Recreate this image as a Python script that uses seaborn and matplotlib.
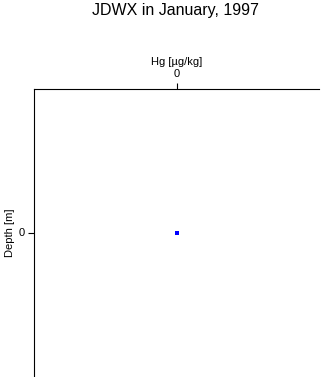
import matplotlib
matplotlib.use("Agg")
import matplotlib.pyplot as plt
import seaborn as sns
import pandas as pd

hg_values = [0.0]
depth_values = [0.0]
x_ticks = [0]
y_ticks = [0]

sns.set_style("white")
plt.rcParams['font.family'] = ['Liberation Sans', 'DejaVu Sans']
plt.rcParams['text.color'] = 'black'
plt.rcParams['axes.labelcolor'] = 'black'
plt.rcParams['xtick.color'] = 'black'
plt.rcParams['ytick.color'] = 'black'

df = pd.DataFrame({"Hg": hg_values, "Depth": depth_values})

fig = plt.figure(figsize=(3.21, 3.77), dpi=100)
ax = fig.add_axes([34/321, 1/377, (319-34)/321, (377-89-1)/377])

sns.scatterplot(data=df, x="Hg", y="Depth", ax=ax, color="#0000ff", marker="s",
                s=5, linewidth=0, legend=False)

ax.set_xlim(-1, 1)
ax.set_ylim(1, -1)
ax.xaxis.tick_top()
ax.xaxis.set_label_position("top")
ax.set_xticks(x_ticks)
ax.set_yticks(y_ticks)
ax.set_xticklabels([str(t) for t in x_ticks])
ax.set_yticklabels([str(t) for t in y_ticks])
ax.set_xlabel("Hg [µg/kg]", fontsize=8, labelpad=3)
ax.set_ylabel("Depth [m]", fontsize=8, labelpad=2)
ax.tick_params(axis="both", labelsize=8, length=4, width=0.8, color="black",
               direction="out", pad=3, top=True, left=True, bottom=False, right=False)

for side in ["right", "bottom"]:
    ax.spines[side].set_visible(False)
for side in ["left", "top"]:
    ax.spines[side].set_visible(True)
    ax.spines[side].set_color("black")
    ax.spines[side].set_linewidth(0.8)

fig.text(175/321, 1 - 11/377, "JDWX in January, 1997", ha="center", va="center", fontsize=11.5)

fig.savefig("out.png", dpi=100)
